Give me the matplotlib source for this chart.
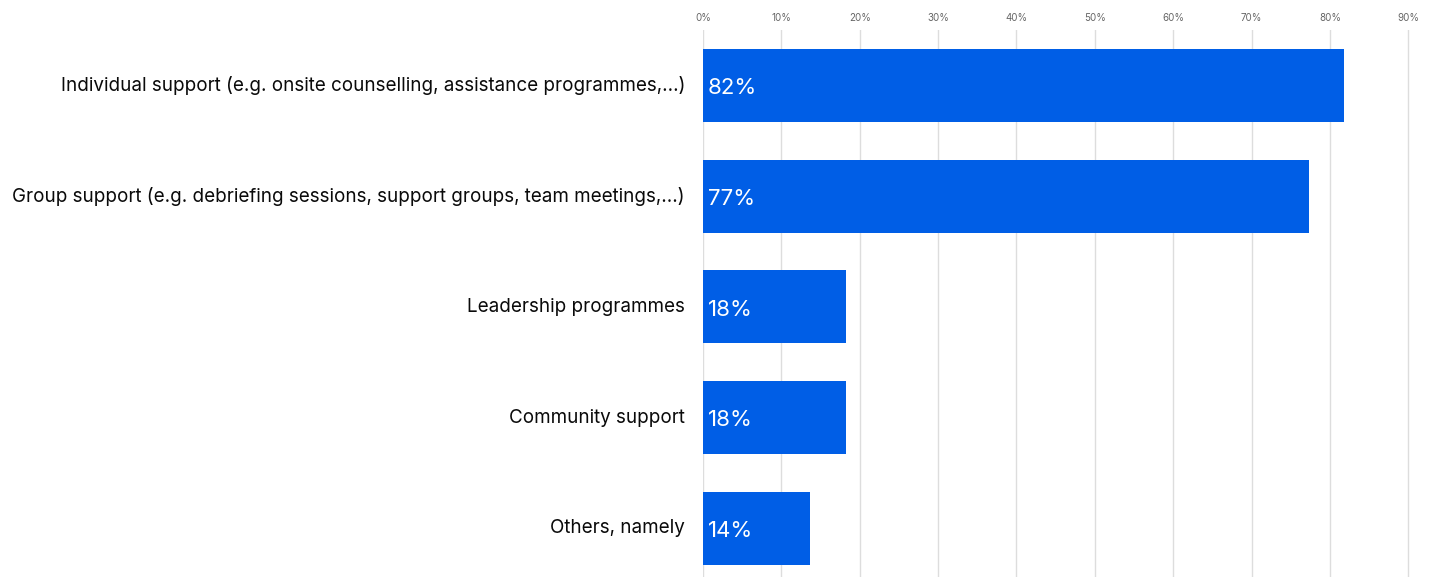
import matplotlib
matplotlib.use("Agg")
import matplotlib.pyplot as plt
import matplotlib.transforms as mtransforms
from matplotlib.ticker import FuncFormatter

plt.rcParams['font.family'] = ['Inter', 'DejaVu Sans']

categories = [
    "Individual support (e.g. onsite counselling, assistance programmes,...)",
    "Group support (e.g. debriefing sessions, support groups, team meetings,...)",
    "Leadership programmes",
    "Community support",
    "Others, namely",
]
values = [81.8, 77.3, 18.2, 18.2, 13.6]
labels = ["82%", "77%", "18%", "18%", "14%"]
ticks = [0, 10, 20, 30, 40, 50, 60, 70, 80, 90]

W, H = 1431, 577
fig = plt.figure(figsize=(W / 100, H / 100), dpi=100)
# axes: left at 0% line, top at 30px, height of 5 bar slots
left, right, top = 703, 1420, 30
slot = 110.75
ax = fig.add_axes([left / W, (H - top - 5 * slot) / H, (right - left) / W, 5 * slot / H])

y = list(range(len(categories)))
ax.barh(y, values, height=0.66, color="#005EE6", zorder=3)
for i, (v, lab) in enumerate(zip(values, labels)):
    ax.text(0.6, i + 0.025, lab, color="white", fontsize=16, va="center", ha="left", zorder=4)

ax.set_ylim(4.5, -0.5)
ax.set_xlim(0, 91.5)
ax.set_yticks(y)
ax.set_yticklabels(categories, fontsize=13.55, color="#0a0a0a")
ax.set_xticks(ticks)
ax.xaxis.set_major_formatter(FuncFormatter(lambda v, p: f"{v:.0f}%"))
ax.xaxis.tick_top()
ax.tick_params(axis="x", length=0, labelsize=7, labelcolor="#666666", pad=5)
ax.tick_params(axis="y", length=0, pad=13)
ax.grid(axis="x", color="#dddddd", linewidth=1, zorder=0)
for s in ax.spines.values():
    s.set_visible(False)

# nudge category labels up a couple of pixels
shift = mtransforms.ScaledTranslation(0, 2 / 100, fig.dpi_scale_trans)
for t in ax.get_yticklabels():
    t.set_transform(t.get_transform() + shift)

fig.savefig("out.png", dpi=100)
